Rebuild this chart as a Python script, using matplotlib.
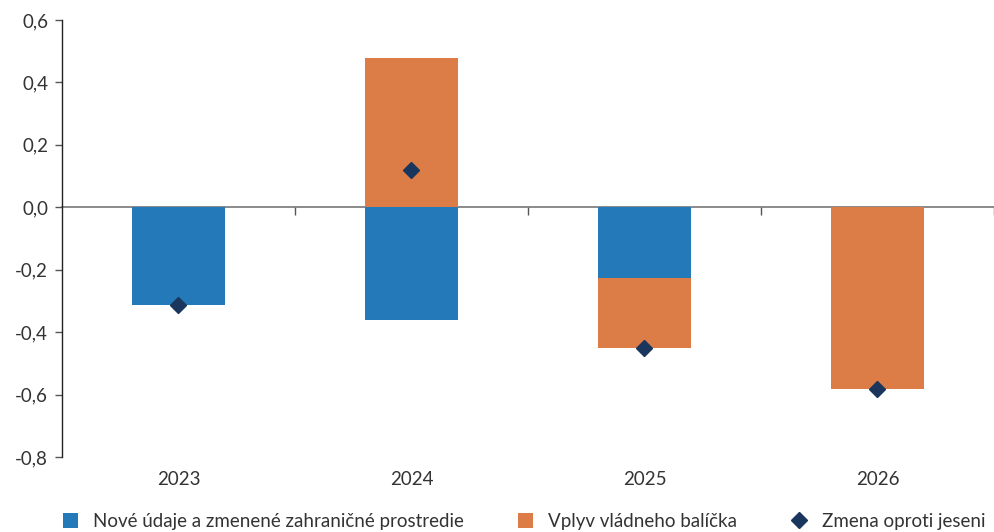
import numpy as np
import matplotlib.pyplot as plt
from matplotlib.patches import Patch
from matplotlib.lines import Line2D
from matplotlib.ticker import FuncFormatter

plt.rcParams['font.family'] = ['Lato', 'DejaVu Sans']

# === DATA ===
years = ['2023', '2024', '2025', '2026']
new_data = [-0.314, -0.362, -0.228, 0.0]      # Nové údaje a zmenené zahraničné prostredie
gov_package = [0.0, 0.478, -0.224, -0.583]    # Vplyv vládneho balíčka
change = [-0.314, 0.119, -0.452, -0.583]      # Zmena oproti jeseni

labels = ['Nové údaje a zmenené zahraničné prostredie',
          'Vplyv vládneho balíčka',
          'Zmena oproti jeseni']

blue = '#2479b8'
orange = '#dc7c47'
navy = '#1b365d'
txt = '#333333'

x = np.arange(len(years))

fig = plt.figure(figsize=(9.95, 5.32), dpi=100)
ax = fig.add_axes([62 / 995, 75 / 532, (994 - 62) / 995, (457 - 20) / 532])

# stacked bars, positives and negatives stacked separately
pos = np.zeros(len(years))
neg = np.zeros(len(years))
for vals, col in [(new_data, blue), (gov_package, orange)]:
    vals = np.array(vals)
    bottom = np.where(vals >= 0, pos, neg)
    ax.bar(x, vals, width=0.4, bottom=bottom, color=col, zorder=2)
    pos += np.clip(vals, 0, None)
    neg += np.clip(vals, None, 0)

ax.plot(x, change, linestyle='none', marker='D', markersize=8, color=navy, zorder=4)

ax.set_xlim(-0.5, len(years) - 0.5)
ax.set_ylim(-0.8, 0.6)
ax.set_yticks(np.arange(-0.8, 0.61, 0.2))
ax.yaxis.set_major_formatter(FuncFormatter(lambda v, p: f'{v:.1f}'.replace('.', ',').replace('-0,0', '0,0')))

for s in ['top', 'right', 'bottom']:
    ax.spines[s].set_visible(False)
ax.spines['left'].set_color('#222222')
ax.spines['left'].set_linewidth(1.0)
ax.tick_params(axis='y', length=5, width=1, color='#555555', labelsize=13.5, labelcolor=txt, pad=5)

ax.set_xticks(x)
ax.set_xticklabels(years)
ax.tick_params(axis='x', length=0, labelsize=13.5, labelcolor=txt, pad=10)

# zero line with category boundary ticks
sec = ax.secondary_xaxis(0, transform=ax.transData)
sec.spines['bottom'].set_color('#777777')
sec.spines['bottom'].set_linewidth(1.2)
sec.set_xticks(np.arange(0.5, len(years), 1.0))
sec.tick_params(axis='x', length=6, width=1, color='#555555', labelbottom=False)

handles = [Patch(facecolor=blue, edgecolor='none'),
           Patch(facecolor=orange, edgecolor='none'),
           Line2D([], [], linestyle='none', marker='D', markersize=8, color=navy)]
fig.legend(handles, labels, loc='lower left', bbox_to_anchor=(46 / 995, -0.028), ncol=3,
           frameon=False, fontsize=13.5, handlelength=0.8, handleheight=0.8,
           handletextpad=0.8, columnspacing=2.9, labelcolor=txt)

fig.savefig('out.png', dpi=100)
